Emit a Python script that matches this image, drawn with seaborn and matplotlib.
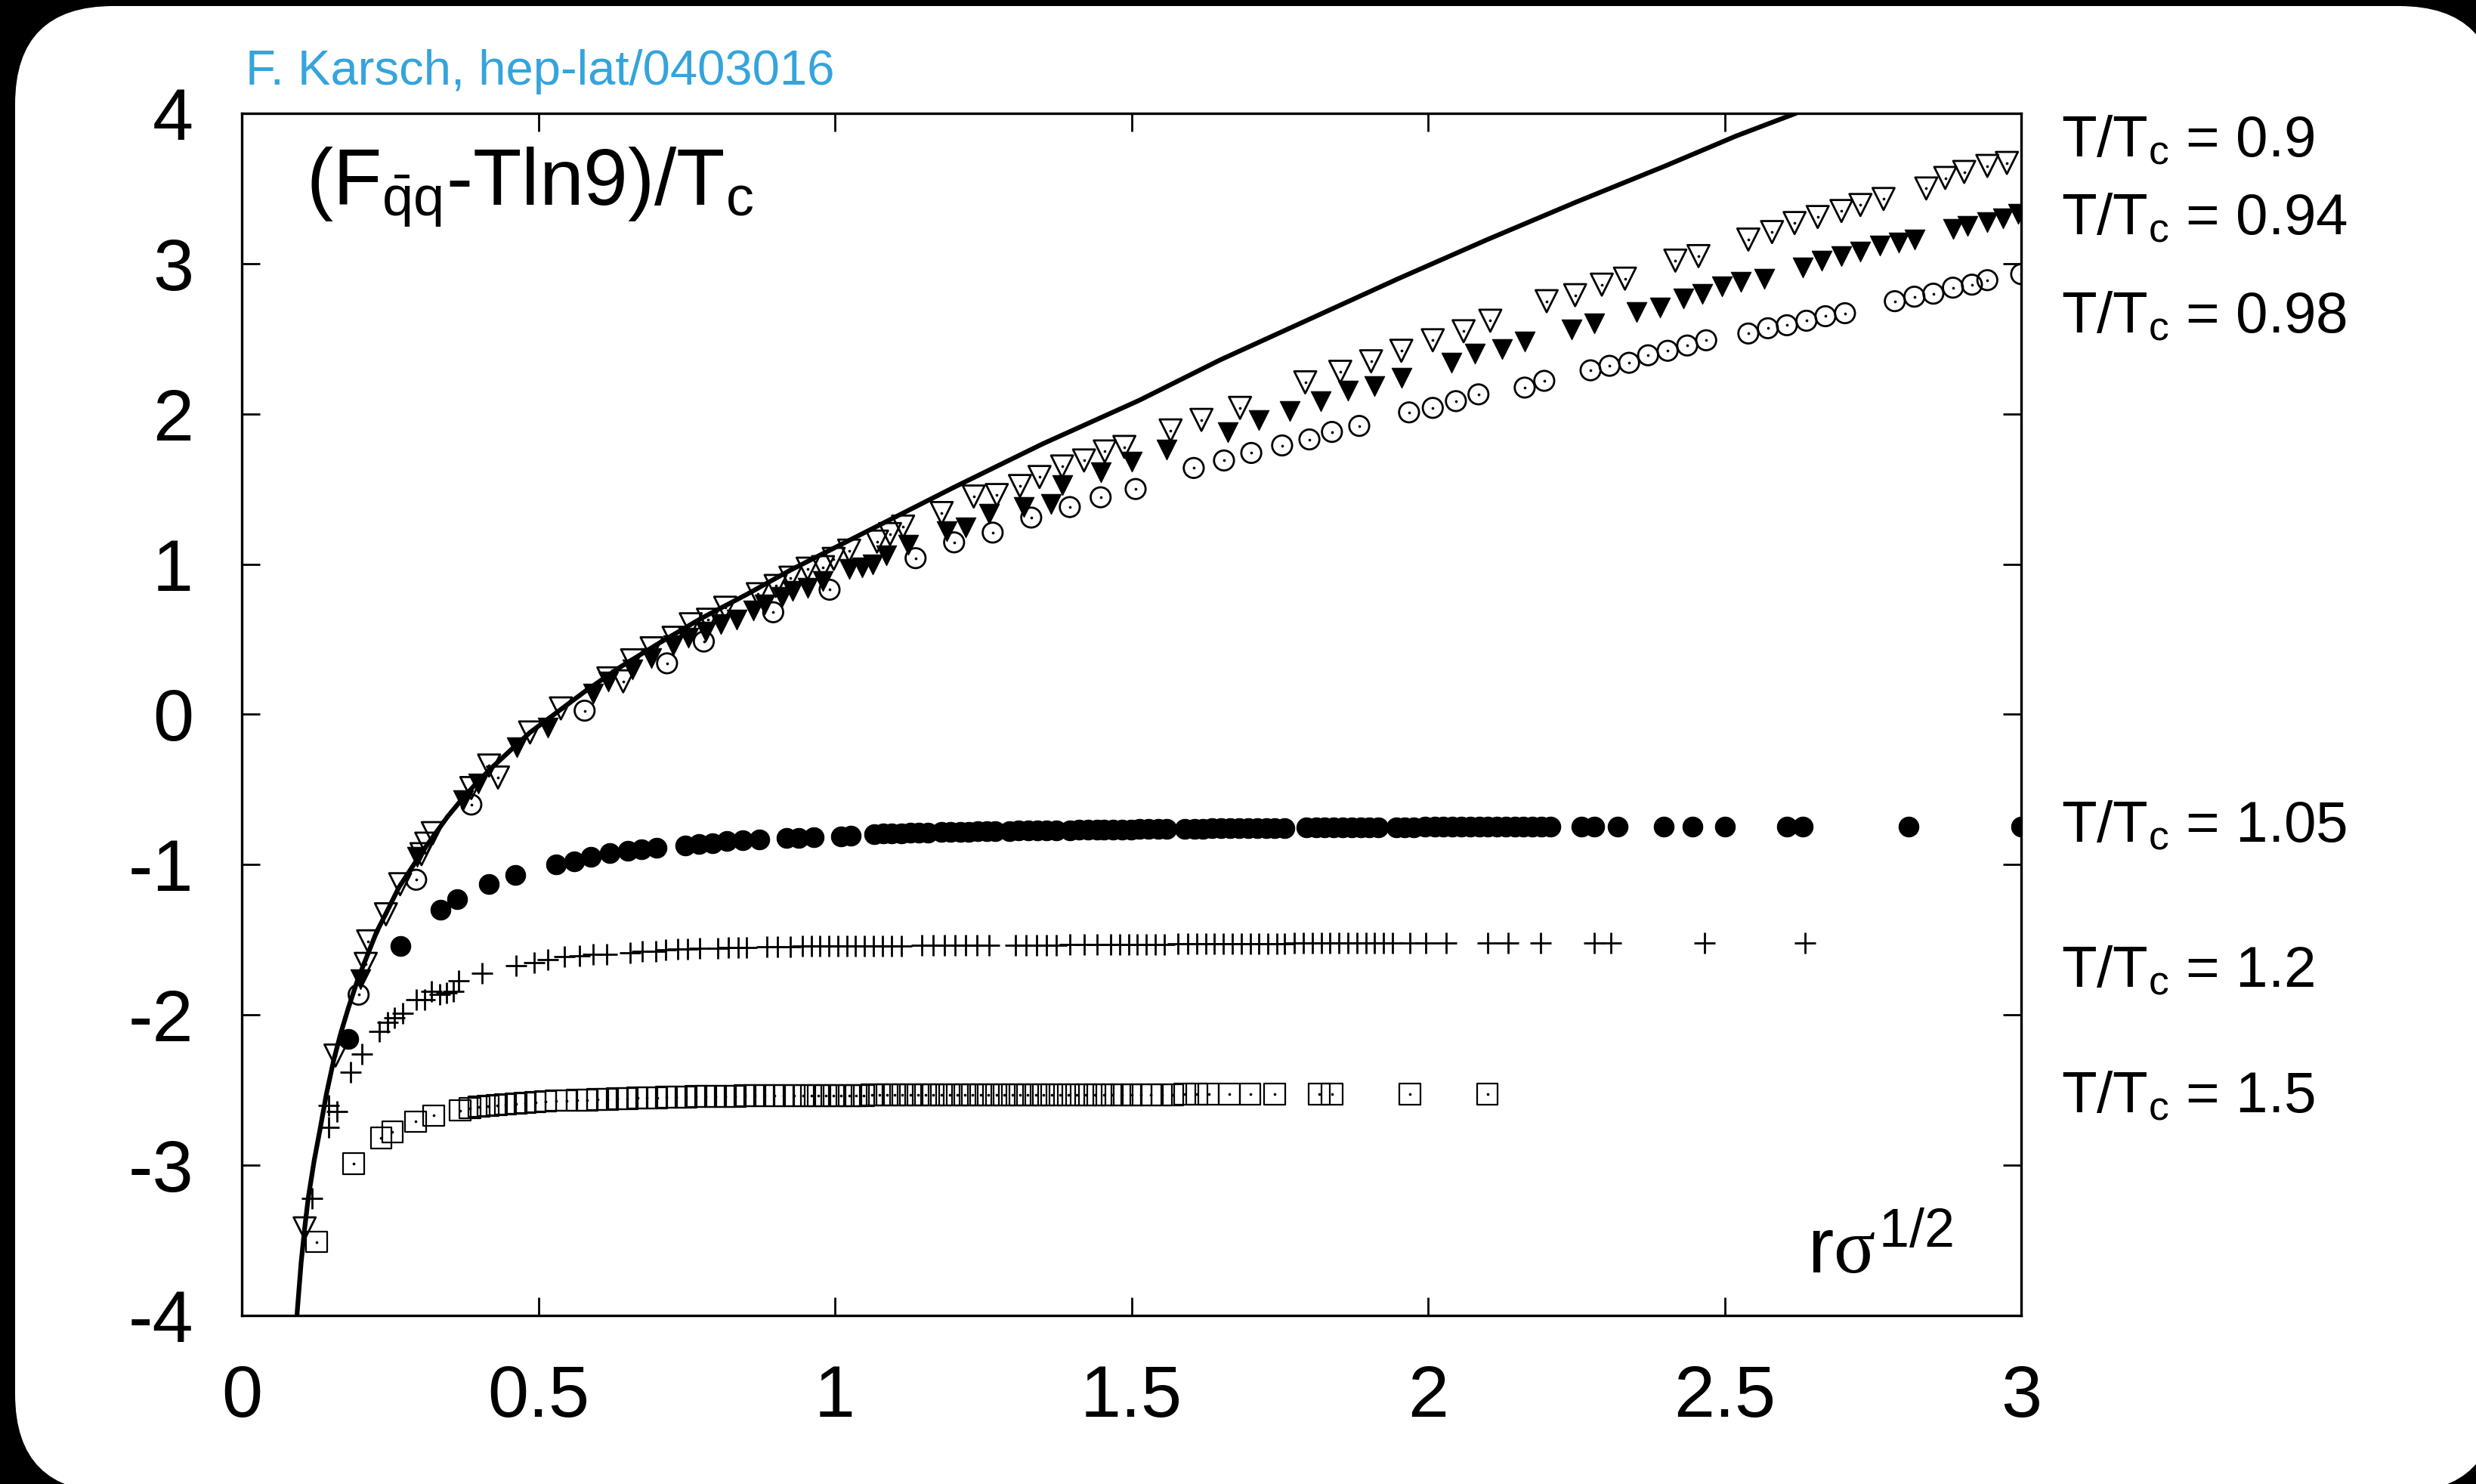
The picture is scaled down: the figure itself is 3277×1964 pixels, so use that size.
import matplotlib
matplotlib.use("Agg")
import matplotlib.pyplot as plt
import seaborn as sns
import pandas as pd
from matplotlib.patches import FancyBboxPatch
from matplotlib.transforms import IdentityTransform

# ---------------- data ----------------
xticks = [0, 0.5, 1, 1.5, 2, 2.5, 3]
xtick_labels = ["0", "0.5", "1", "1.5", "2", "2.5", "3"]
yticks = [-4, -3, -2, -1, 0, 1, 2, 3, 4]
ytick_labels = ["-4", "-3", "-2", "-1", "0", "1", "2", "3", "4"]

# T = 0 (zero temperature) potential, solid line
curve_pts = [(0.093, -4.00), (0.097, -3.80), (0.100, -3.65), (0.106, -3.42), (0.112, -3.22),
             (0.122, -2.97), (0.132, -2.76), (0.143, -2.52), (0.155, -2.30), (0.167, -2.12),
             (0.180, -1.95), (0.195, -1.77), (0.210, -1.62), (0.227, -1.45), (0.245, -1.31),
             (0.265, -1.15), (0.285, -1.03), (0.305, -0.91), (0.325, -0.80), (0.347, -0.68),
             (0.370, -0.57), (0.395, -0.46), (0.420, -0.36), (0.450, -0.25), (0.486, -0.12),
             (0.530, 0.01), (0.581, 0.16), (0.640, 0.32), (0.706, 0.48), (0.775, 0.64),
             (0.852, 0.80), (0.925, 0.96), (1.000, 1.11), (1.100, 1.31), (1.200, 1.51),
             (1.350, 1.80), (1.513, 2.09), (1.650, 2.36), (1.800, 2.63), (1.950, 2.90),
             (2.100, 3.16), (2.250, 3.41), (2.400, 3.65), (2.520, 3.85), (2.620, 4.00)]

# T/Tc = 0.9  (open down-triangles)
t090_pts = [(0.106, -3.42), (0.158, -2.27), (0.209, -1.66), (0.213, -1.51), (0.243, -1.33),
            (0.267, -1.13), (0.303, -0.93), (0.311, -0.86), (0.322, -0.79), (0.387, -0.49),
            (0.417, -0.34), (0.432, -0.42), (0.486, -0.12), (0.538, 0.04), (0.618, 0.24),
            (0.643, 0.22), (0.658, 0.36), (0.691, 0.44), (0.728, 0.51), (0.757, 0.60),
            (0.786, 0.63), (0.815, 0.71), (0.870, 0.80), (0.900, 0.855), (0.925, 0.91),
            (0.954, 0.97), (0.980, 0.98), (0.998, 1.035), (1.024, 1.09), (1.071, 1.15),
            (1.093, 1.20), (1.115, 1.25), (1.180, 1.34), (1.234, 1.45), (1.273, 1.46),
            (1.312, 1.52), (1.345, 1.58), (1.383, 1.65), (1.420, 1.69), (1.455, 1.75),
            (1.488, 1.78), (1.566, 1.89), (1.618, 1.96), (1.683, 2.04), (1.793, 2.21),
            (1.852, 2.28), (1.904, 2.35), (1.955, 2.42), (2.008, 2.49), (2.060, 2.55),
            (2.105, 2.62), (2.200, 2.75), (2.248, 2.79), (2.293, 2.86), (2.332, 2.90),
            (2.417, 3.02), (2.456, 3.05), (2.540, 3.16), (2.580, 3.21), (2.618, 3.27),
            (2.657, 3.31), (2.697, 3.35), (2.729, 3.39), (2.768, 3.43), (2.840, 3.50),
            (2.872, 3.57), (2.904, 3.61), (2.943, 3.65), (2.976, 3.67)]

# T/Tc = 0.94 (filled down-triangles)
t094_pts = [(0.200, -1.76), (0.296, -0.95), (0.373, -0.57), (0.399, -0.46), (0.464, -0.22),
            (0.516, -0.09), (0.592, 0.14), (0.618, 0.22), (0.658, 0.30), (0.691, 0.375),
            (0.728, 0.46), (0.753, 0.51), (0.782, 0.55), (0.808, 0.60), (0.834, 0.63),
            (0.863, 0.69), (0.881, 0.73), (0.911, 0.78), (0.929, 0.82), (0.954, 0.84),
            (0.980, 0.89), (1.024, 0.97), (1.046, 0.98), (1.064, 1.00), (1.086, 1.06),
            (1.124, 1.13), (1.189, 1.22), (1.221, 1.245), (1.260, 1.335), (1.318, 1.38),
            (1.364, 1.40), (1.383, 1.525), (1.448, 1.61), (1.500, 1.68), (1.559, 1.76),
            (1.663, 1.88), (1.715, 1.96), (1.767, 2.02), (1.819, 2.085), (1.865, 2.155),
            (1.909, 2.185), (1.955, 2.24), (2.040, 2.34), (2.079, 2.40), (2.125, 2.43),
            (2.163, 2.48), (2.242, 2.56), (2.280, 2.60), (2.352, 2.68), (2.391, 2.71),
            (2.430, 2.77), (2.462, 2.80), (2.495, 2.85), (2.527, 2.88), (2.567, 2.90),
            (2.632, 2.975), (2.664, 3.02), (2.697, 3.05), (2.729, 3.08), (2.762, 3.12),
            (2.794, 3.14), (2.820, 3.16), (2.885, 3.23), (2.910, 3.25), (2.943, 3.275),
            (2.970, 3.30), (2.995, 3.33)]

# T/Tc = 0.98 (open circles)
t098_pts = [(0.197, -1.865), (0.294, -1.10), (0.387, -0.60), (0.578, 0.025), (0.717, 0.34),
            (0.779, 0.485), (0.896, 0.68), (0.991, 0.83), (1.136, 1.04), (1.201, 1.145),
            (1.266, 1.21), (1.331, 1.31), (1.396, 1.38), (1.448, 1.445), (1.507, 1.50),
            (1.605, 1.64), (1.656, 1.69), (1.702, 1.74), (1.754, 1.79), (1.800, 1.83),
            (1.838, 1.88), (1.884, 1.92), (1.968, 2.01), (2.008, 2.04), (2.047, 2.085),
            (2.085, 2.13), (2.163, 2.175), (2.196, 2.22), (2.274, 2.29), (2.306, 2.32),
            (2.339, 2.34), (2.371, 2.39), (2.404, 2.42), (2.437, 2.455), (2.469, 2.49),
            (2.540, 2.535), (2.573, 2.57), (2.605, 2.59), (2.638, 2.62), (2.670, 2.65),
            (2.703, 2.67), (2.787, 2.75), (2.820, 2.78), (2.852, 2.80), (2.885, 2.84),
            (2.917, 2.86), (2.943, 2.89), (3.000, 2.93)]

# T/Tc = 1.05 (filled circles)
t105_pts = [(0.180, -2.16), (0.268, -1.54), (0.335, -1.30), (0.363, -1.23), (0.417, -1.13),
            (0.461, -1.07), (0.530, -1.00), (0.560, -0.98), (0.589, -0.95), (0.620, -0.925),
            (0.651, -0.91), (0.674, -0.90), (0.699, -0.89), (0.748, -0.87), (0.771, -0.86),
            (0.794, -0.855), (0.818, -0.84), (0.845, -0.835), (0.873, -0.83), (0.918, -0.82),
            (0.939, -0.82), (0.964, -0.815), (1.010, -0.81), (1.027, -0.805), (1.066, -0.795),
            (1.081, -0.79), (1.096, -0.79), (1.112, -0.79), (1.127, -0.785), (1.142, -0.785),
            (1.157, -0.785), (1.180, -0.78), (1.195, -0.78), (1.211, -0.78), (1.226, -0.78),
            (1.241, -0.775), (1.256, -0.775), (1.270, -0.775), (1.294, -0.775), (1.310, -0.77),
            (1.326, -0.77), (1.341, -0.77), (1.357, -0.77), (1.373, -0.77), (1.396, -0.77),
            (1.412, -0.765), (1.427, -0.765), (1.442, -0.765), (1.453, -0.765), (1.469, -0.765),
            (1.484, -0.765), (1.499, -0.765), (1.514, -0.76), (1.529, -0.76), (1.545, -0.76),
            (1.559, -0.76), (1.590, -0.76), (1.606, -0.76), (1.621, -0.76), (1.636, -0.755),
            (1.651, -0.755), (1.666, -0.755), (1.681, -0.755), (1.697, -0.755), (1.712, -0.755),
            (1.727, -0.755), (1.742, -0.755), (1.758, -0.755), (1.795, -0.75), (1.811, -0.75),
            (1.826, -0.75), (1.841, -0.75), (1.856, -0.75), (1.871, -0.75), (1.886, -0.75),
            (1.901, -0.75), (1.916, -0.75), (1.946, -0.75), (1.961, -0.75), (1.976, -0.75),
            (1.995, -0.745), (2.011, -0.745), (2.026, -0.745), (2.041, -0.745), (2.056, -0.745),
            (2.071, -0.745), (2.086, -0.745), (2.101, -0.745), (2.116, -0.745), (2.131, -0.745),
            (2.146, -0.745), (2.161, -0.745), (2.176, -0.745), (2.191, -0.745), (2.207, -0.745),
            (2.259, -0.745), (2.280, -0.745), (2.320, -0.745), (2.397, -0.745), (2.446, -0.745),
            (2.500, -0.745), (2.605, -0.745), (2.632, -0.745), (2.810, -0.745), (3.000, -0.745)]

# T/Tc = 1.2 (plus)
t120_pts = [(0.118, -3.22), (0.146, -2.75), (0.146, -2.60), (0.160, -2.64), (0.183, -2.38),
            (0.203, -2.26), (0.232, -2.11), (0.246, -2.05), (0.257, -2.02), (0.271, -1.99),
            (0.294, -1.90), (0.308, -1.90), (0.320, -1.845), (0.334, -1.865), (0.345, -1.855),
            (0.357, -1.845), (0.365, -1.77), (0.405, -1.72), (0.462, -1.67), (0.493, -1.65),
            (0.516, -1.634), (0.544, -1.614), (0.569, -1.605), (0.592, -1.596), (0.615, -1.596),
            (0.655, -1.585), (0.675, -1.576), (0.698, -1.576), (0.715, -1.566), (0.735, -1.56),
            (0.752, -1.56), (0.772, -1.556), (0.803, -1.556), (0.820, -1.55), (0.837, -1.55),
            (0.851, -1.55), (0.885, -1.548), (0.903, -1.548), (0.925, -1.545), (0.945, -1.54),
            (0.960, -1.54), (0.975, -1.54), (0.990, -1.54), (1.005, -1.54), (1.020, -1.54),
            (1.035, -1.54), (1.050, -1.54), (1.065, -1.54), (1.080, -1.54), (1.095, -1.54),
            (1.112, -1.54), (1.147, -1.537), (1.165, -1.537), (1.185, -1.537), (1.203, -1.537),
            (1.220, -1.535), (1.240, -1.535), (1.260, -1.535), (1.305, -1.535), (1.322, -1.535),
            (1.340, -1.535), (1.357, -1.535), (1.373, -1.535), (1.396, -1.53), (1.420, -1.53),
            (1.442, -1.53), (1.465, -1.53), (1.480, -1.53), (1.495, -1.53), (1.510, -1.53),
            (1.525, -1.53), (1.540, -1.53), (1.555, -1.53), (1.578, -1.525), (1.595, -1.525),
            (1.610, -1.525), (1.625, -1.525), (1.640, -1.525), (1.655, -1.525), (1.670, -1.525),
            (1.685, -1.525), (1.700, -1.525), (1.715, -1.525), (1.730, -1.525), (1.745, -1.525),
            (1.758, -1.525), (1.775, -1.52), (1.790, -1.52), (1.805, -1.52), (1.820, -1.52),
            (1.835, -1.52), (1.850, -1.52), (1.865, -1.52), (1.880, -1.52), (1.895, -1.52),
            (1.910, -1.52), (1.925, -1.52), (1.940, -1.52), (1.969, -1.52), (1.996, -1.52),
            (2.031, -1.52), (2.100, -1.52), (2.135, -1.52), (2.190, -1.52), (2.280, -1.52),
            (2.308, -1.52), (2.466, -1.52), (2.636, -1.52)]

# T/Tc = 1.5 (open squares)
t150_pts = [(0.126, -3.51), (0.189, -2.99), (0.235, -2.82), (0.254, -2.78), (0.293, -2.71),
            (0.324, -2.67), (0.368, -2.635), (0.385, -2.62), (0.400, -2.61), (0.415, -2.605),
            (0.430, -2.60), (0.445, -2.595), (0.462, -2.59), (0.478, -2.585), (0.495, -2.58),
            (0.512, -2.575), (0.530, -2.57), (0.548, -2.57), (0.565, -2.565), (0.582, -2.565),
            (0.600, -2.56), (0.617, -2.56), (0.633, -2.555), (0.650, -2.555), (0.667, -2.55),
            (0.683, -2.55), (0.700, -2.55), (0.716, -2.545), (0.733, -2.545), (0.749, -2.545),
            (0.766, -2.54), (0.782, -2.54), (0.799, -2.54), (0.815, -2.54), (0.832, -2.54),
            (0.848, -2.535), (0.865, -2.535), (0.881, -2.535), (0.898, -2.535), (0.914, -2.535),
            (0.931, -2.535), (0.947, -2.535), (0.960, -2.535), (0.972, -2.535), (0.985, -2.535),
            (0.998, -2.535), (1.010, -2.535), (1.024, -2.535), (1.036, -2.535), (1.049, -2.535),
            (1.062, -2.53), (1.075, -2.53), (1.088, -2.53), (1.101, -2.53), (1.114, -2.53),
            (1.127, -2.53), (1.140, -2.53), (1.153, -2.53), (1.166, -2.53), (1.180, -2.53),
            (1.193, -2.53), (1.206, -2.53), (1.219, -2.53), (1.232, -2.53), (1.246, -2.53),
            (1.259, -2.53), (1.272, -2.53), (1.285, -2.53), (1.299, -2.53), (1.312, -2.53),
            (1.325, -2.53), (1.339, -2.53), (1.352, -2.53), (1.366, -2.53), (1.380, -2.53),
            (1.394, -2.53), (1.408, -2.53), (1.423, -2.53), (1.438, -2.53), (1.453, -2.53),
            (1.468, -2.53), (1.484, -2.53), (1.500, -2.53), (1.516, -2.53), (1.533, -2.53),
            (1.551, -2.53), (1.570, -2.53), (1.590, -2.525), (1.610, -2.525), (1.630, -2.525),
            (1.665, -2.525), (1.700, -2.525), (1.741, -2.525), (1.817, -2.525), (1.838, -2.525),
            (1.969, -2.525), (2.100, -2.525)]

series_labels = ["T/T$_{\\rm c}$ = 0.9", "T/T$_{\\rm c}$ = 0.94", "T/T$_{\\rm c}$ = 0.98",
                 "T/T$_{\\rm c}$ = 1.05", "T/T$_{\\rm c}$ = 1.2", "T/T$_{\\rm c}$ = 1.5"]
title_text = "(F$_{\\bar{\\rm q}{\\rm q}}$-Tln9)/T$_{\\rm c}$"
xlabel_text = "r$\\sigma^{1/2}$"
credit_text = "F. Karsch, hep-lat/0403016"

# ---------------- figure ----------------
W, H = 3277, 1964
sns.set_theme(style="ticks")
plt.rcParams["font.family"] = ["Liberation Sans", "DejaVu Sans"]
plt.rcParams["mathtext.fontset"] = "custom"
plt.rcParams["mathtext.rm"] = "Liberation Sans"
plt.rcParams["mathtext.it"] = "Liberation Serif"
plt.rcParams["axes.unicode_minus"] = False

fig = plt.figure(figsize=(W / 100, H / 100), dpi=100)
fig.patch.set_facecolor("black")
card = FancyBboxPatch((20, -11), 3285, 1967,
                      boxstyle="round,pad=0,rounding_size=130",
                      transform=IdentityTransform(), facecolor="white",
                      edgecolor="none", zorder=-5)
fig.patches.append(card)

L, R, T, B = 320, 2675, 150, 1741
ax = fig.add_axes([L / W, (H - B) / H, (R - L) / W, (B - T) / H])
ax.set_facecolor("white")

def frame(pts):
    return pd.DataFrame(pts, columns=["r", "F"])

df_curve = frame(curve_pts)
sns.lineplot(data=df_curve, x="r", y="F", sort=False, estimator=None,
             color="black", linewidth=4.5, ax=ax, zorder=2)

mk_kw = dict(ax=ax, legend=False)
# open triangles
d = frame(t090_pts)
sns.scatterplot(data=d, x="r", y="F", marker="v", s=21 ** 2, facecolor="none",
                edgecolor="black", linewidth=2.0, zorder=3, **mk_kw)
sns.scatterplot(data=d, x="r", y="F", marker="o", s=7, color="black",
                linewidth=0, zorder=3, **mk_kw)
# filled triangles
d = frame(t094_pts)
sns.scatterplot(data=d, x="r", y="F", marker="v", s=19 ** 2, color="black",
                edgecolor="black", linewidth=0.8, zorder=3, **mk_kw)
# open circles
d = frame(t098_pts)
sns.scatterplot(data=d, x="r", y="F", marker="o", s=19 ** 2, facecolor="none",
                edgecolor="black", linewidth=2.0, zorder=3, **mk_kw)
sns.scatterplot(data=d, x="r", y="F", marker="o", s=7, color="black",
                linewidth=0, zorder=3, **mk_kw)
# filled circles
d = frame(t105_pts)
sns.scatterplot(data=d, x="r", y="F", marker="o", s=19 ** 2, color="black",
                edgecolor="black", linewidth=0.8, zorder=3, **mk_kw)
# plus
d = frame(t120_pts)
sns.scatterplot(data=d, x="r", y="F", marker="+", s=20 ** 2, color="black",
                linewidth=2.0, zorder=3, **mk_kw)
# open squares
d = frame(t150_pts)
sns.scatterplot(data=d, x="r", y="F", marker="s", s=20 ** 2, facecolor="none",
                edgecolor="black", linewidth=1.6, zorder=3, **mk_kw)
sns.scatterplot(data=d, x="r", y="F", marker="o", s=7, color="black",
                linewidth=0, zorder=3, **mk_kw)

ax.set_xlim(0, 3)
ax.set_ylim(-4, 4)
ax.set_xticks(xticks)
ax.set_xticklabels(xtick_labels)
ax.set_yticks(yticks)
ax.set_yticklabels(ytick_labels)
ax.set_xlabel("")
ax.set_ylabel("")
ax.tick_params(direction="in", length=17, width=2, top=True, right=True,
               labelsize=70, pad=46, colors="black")
for sp in ax.spines.values():
    sp.set_visible(True)
    sp.set_linewidth(2.4)
    sp.set_color("black")

# texts
ax.text(0.108, 3.39, title_text, fontsize=76, va="baseline", ha="left", color="black")
ax.text(2.64, -3.72, xlabel_text, fontsize=74, va="baseline", ha="left", color="black")
fig.text(325 / W, (H - 112) / H, credit_text, fontsize=47, color="#35a4dc",
         ha="left", va="baseline")

label_baselines = [207, 310, 440, 1114, 1306, 1472]
for lab, yb in zip(series_labels, label_baselines):
    fig.text(2728 / W, (H - yb) / H, lab, fontsize=55, color="black",
             ha="left", va="baseline")

fig.savefig("out.png", dpi=100, facecolor="black")
